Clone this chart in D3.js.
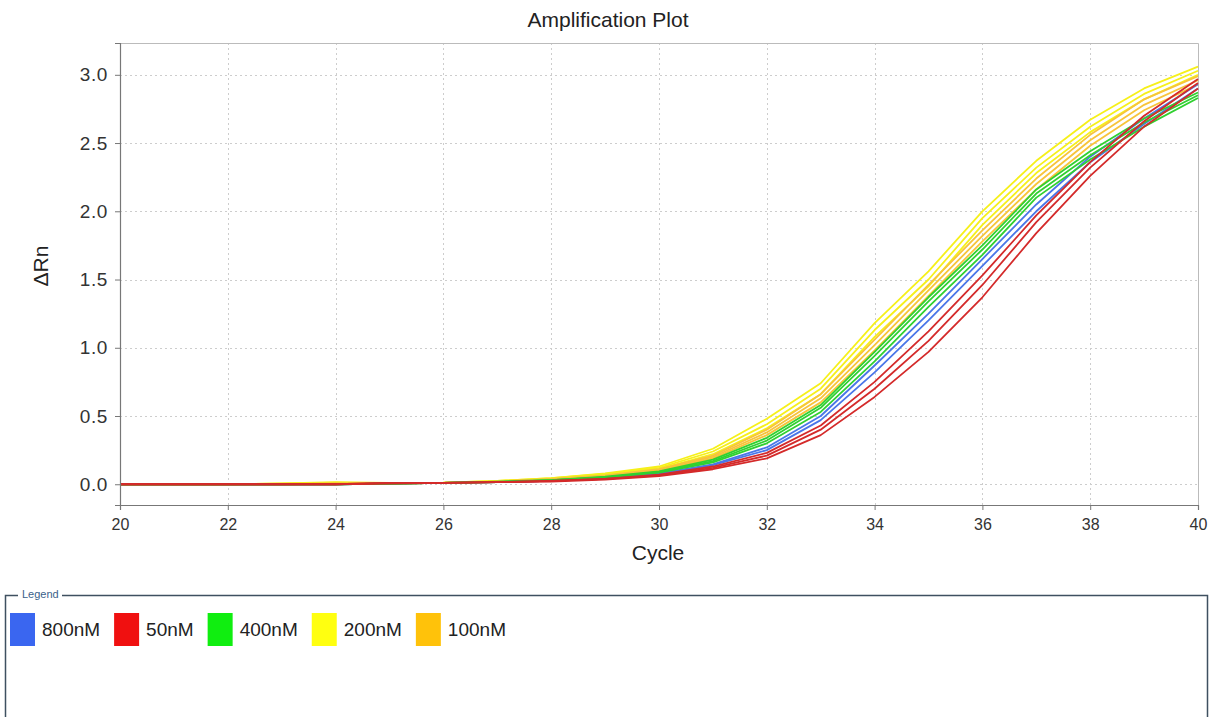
<!DOCTYPE html>
<html>
<head>
<meta charset="utf-8">
<script src="https://cdn.jsdelivr.net/npm/d3@7"></script>
<style>
	body { margin: 0; background: #fff; font-family: "Liberation Sans", Arial, sans-serif; }
	.grid line { stroke: #cdcdcd; stroke-dasharray: 2,3; }
	.axis path, .axis line { stroke: #777; }
	.axis text { fill: #333; }
</style>
</head>
<body>
<div class="container"></div>
<script>
const WIDTH = 1214
	, HEIGHT = 717
	, LEFT = 120
	, TOP = 43
	, RIGHT = 1198
	, BOTTOM = 505;

// cycles on the x axis
var cycles = [20, 21, 22, 23, 24, 25, 26, 27, 28, 29, 30, 31, 32, 33, 34, 35, 36, 37, 38, 39, 40];
var xTicks = [20, 22, 24, 26, 28, 30, 32, 34, 36, 38, 40];
var yTicks = [0.0, 0.5, 1.0, 1.5, 2.0, 2.5, 3.0];

var legendNames = ['800nM', '50nM', '400nM', '200nM', '100nM'];
var legendColors = ['#3a66f0', '#f01010', '#10ee10', '#ffff10', '#ffc20a'];

// delta Rn per well, grouped by primer concentration
var rn200nM = [
	[0, 0, 0, 0.005, 0.01, 0.008, 0.01, 0.02, 0.04, 0.07, 0.11, 0.22, 0.41, 0.66, 1.08, 1.45, 1.9, 2.28, 2.58, 2.82, 3.0],
	[0, 0, 0, 0.005, 0.012, 0.008, 0.012, 0.025, 0.045, 0.075, 0.12, 0.24, 0.44, 0.7, 1.13, 1.5, 1.95, 2.32, 2.62, 2.86, 3.03],
	[0, 0, 0, 0.006, 0.015, 0.01, 0.012, 0.025, 0.045, 0.08, 0.13, 0.26, 0.48, 0.74, 1.18, 1.56, 2.0, 2.37, 2.67, 2.9, 3.06]
];
var rn100nM = [
	[0, 0, 0, 0, 0.005, 0.005, 0.01, 0.02, 0.035, 0.06, 0.1, 0.19, 0.36, 0.6, 0.98, 1.38, 1.78, 2.16, 2.48, 2.74, 2.93],
	[0, 0, 0, 0, 0.005, 0.005, 0.01, 0.02, 0.035, 0.06, 0.105, 0.2, 0.38, 0.63, 1.02, 1.42, 1.82, 2.2, 2.52, 2.78, 2.96],
	[0, 0, 0, 0, 0.005, 0.005, 0.01, 0.02, 0.04, 0.065, 0.11, 0.21, 0.4, 0.66, 1.06, 1.46, 1.86, 2.24, 2.56, 2.82, 2.99]
];
var rn800nM = [
	[0, 0, 0, 0, 0, 0.005, 0.01, 0.015, 0.025, 0.045, 0.075, 0.14, 0.25, 0.47, 0.82, 1.2, 1.6, 2.0, 2.36, 2.64, 2.9],
	[0, 0, 0, 0, 0, 0.005, 0.01, 0.015, 0.025, 0.045, 0.08, 0.145, 0.27, 0.5, 0.87, 1.25, 1.65, 2.05, 2.4, 2.68, 2.93]
];
var rn400nM = [
	[0, 0, 0, 0, 0, 0.005, 0.01, 0.015, 0.03, 0.05, 0.085, 0.16, 0.3, 0.53, 0.9, 1.3, 1.68, 2.1, 2.38, 2.62, 2.83],
	[0, 0, 0, 0, 0, 0.005, 0.01, 0.015, 0.03, 0.05, 0.09, 0.17, 0.32, 0.56, 0.94, 1.34, 1.72, 2.13, 2.41, 2.65, 2.85],
	[0, 0, 0, 0, 0, 0.005, 0.01, 0.02, 0.03, 0.055, 0.095, 0.18, 0.34, 0.58, 0.97, 1.37, 1.75, 2.16, 2.44, 2.68, 2.87]
];
var rn50nM = [
	[0, 0, 0, 0, 0, 0.01, 0.01, 0.015, 0.02, 0.035, 0.06, 0.11, 0.19, 0.36, 0.64, 0.97, 1.37, 1.84, 2.26, 2.62, 2.9],
	[0, 0, 0, 0, 0, 0.01, 0.01, 0.015, 0.025, 0.04, 0.065, 0.12, 0.21, 0.4, 0.7, 1.05, 1.46, 1.92, 2.32, 2.66, 2.94],
	[0, 0, 0, 0, 0, 0.005, 0.01, 0.015, 0.025, 0.04, 0.07, 0.13, 0.23, 0.43, 0.75, 1.12, 1.53, 1.97, 2.36, 2.7, 2.97]
];

var translate = function (x, y) {
	return "translate(" + x + "," + y + ")";
};

var svg = d3.select('.container').append('svg')
	.attr('width', WIDTH)
	.attr('height', HEIGHT);

var _xScale = d3.scaleLinear().domain([20, 40]).range([LEFT, RIGHT]);
var _yScale = d3.scaleLinear().domain([-0.152, 3.233]).range([BOTTOM, TOP]);

// grid
var grid = svg.append('g').classed('grid', true);
grid.selectAll('.gx').data(xTicks.slice(1, -1)).enter().append('line')
	.attr('x1', function (d) { return Math.round(_xScale(d)) + 0.5 })
	.attr('x2', function (d) { return Math.round(_xScale(d)) + 0.5 })
	.attr('y1', TOP).attr('y2', BOTTOM);
grid.selectAll('.gy').data(yTicks).enter().append('line')
	.attr('y1', function (d) { return Math.round(_yScale(d)) + 0.5 })
	.attr('y2', function (d) { return Math.round(_yScale(d)) + 0.5 })
	.attr('x1', LEFT).attr('x2', RIGHT);

// plot frame (top and right)
svg.append('path')
	.attr('d', 'M' + LEFT + ',' + (TOP + 0.5) + 'H' + (RIGHT + 0.5) + 'V' + BOTTOM)
	.attr('fill', 'none')
	.attr('stroke', '#bbb');

// curves
var line = d3.line()
	.x(function (v, i) { return _xScale(cycles[i]) })
	.y(function (v) { return _yScale(v) });

var groups = [
	{ rows: rn200nM, color: '#f6f01a' },
	{ rows: rn100nM, color: '#f7c43a' },
	{ rows: rn800nM, color: '#4a76e8' },
	{ rows: rn400nM, color: '#30d030' },
	{ rows: rn50nM, color: '#d42a2a' }
];
var curves = svg.append('g');
groups.forEach(function (g) {
	curves.selectAll(null).data(g.rows).enter().append('path')
		.attr('d', line)
		.attr('fill', 'none')
		.attr('stroke', g.color)
		.attr('stroke-width', 1.8)
		.attr('stroke-linejoin', 'round');
});

// axes
var xAxis = d3.axisBottom(_xScale).tickValues(xTicks).tickSize(5).tickFormat(d3.format('d'));
svg.append('g')
	.attr('class', 'axis')
	.attr('transform', translate(0, BOTTOM))
	.call(xAxis)
	.call(function (g) {
		g.selectAll('text')
			.attr('font-size', 16)
			.attr('y', 25).attr('dy', 0)
			.attr('font-family', '"Liberation Sans Narrow", "Liberation Sans", Arial');
	});

var yAxis = d3.axisLeft(_yScale).tickValues(yTicks).tickSize(5).tickFormat(d3.format('.1f'));
svg.append('g')
	.attr('class', 'axis')
	.attr('transform', translate(LEFT, 0))
	.call(yAxis)
	.call(function (g) { g.selectAll('text').attr('font-size', 19).attr('x', -12).attr('letter-spacing', 0.6) });

svg.selectAll('.axis path').attr('stroke', '#777').attr('stroke-width', 1.2);

// titles
svg.append('text')
	.attr('x', 608).attr('y', 27)
	.attr('text-anchor', 'middle')
	.attr('font-size', 21)
	.attr('fill', '#222')
	.text('Amplification Plot');

svg.append('text')
	.attr('x', 658).attr('y', 560)
	.attr('text-anchor', 'middle')
	.attr('font-size', 21)
	.attr('fill', '#222')
	.text('Cycle');

svg.append('text')
	.attr('transform', translate(48, 266) + ' rotate(-90)')
	.attr('text-anchor', 'middle')
	.attr('font-size', 21)
	.attr('fill', '#222')
	.text('ΔRn');

// legend box
svg.append('path')
	.attr('d', 'M18,595.5H5.5V720M62,595.5H1207.5V720')
	.attr('fill', 'none')
	.attr('stroke', '#3f5060')
	.attr('stroke-width', 1.5);
svg.append('text')
	.attr('x', 22).attr('y', 598)
	.attr('font-size', 11)
	.attr('fill', '#3a5f8a')
	.text('Legend');

// legend items flow left to right
var legendX = 10;
legendNames.forEach(function (name, i) {
	var item = svg.append('g').attr('transform', translate(legendX, 613));
	item.append('rect')
		.attr('width', 25).attr('height', 33)
		.attr('fill', legendColors[i]);
	var label = item.append('text')
		.attr('x', 32).attr('y', 23)
		.attr('font-size', 19)
		.attr('fill', '#222')
		.text(name);
	legendX += 32 + label.node().getComputedTextLength() + 14;
});
</script>
</body>
</html>
